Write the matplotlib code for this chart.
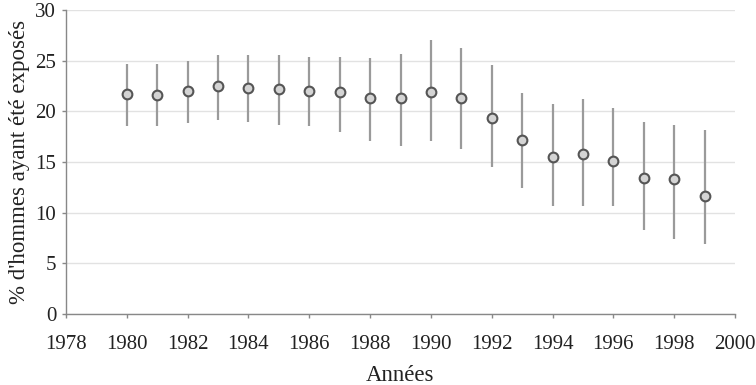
import matplotlib
matplotlib.use("Agg")
import matplotlib.pyplot as plt

years = [1980, 1981, 1982, 1983, 1984, 1985, 1986, 1987, 1988, 1989,
         1990, 1991, 1992, 1993, 1994, 1995, 1996, 1997, 1998, 1999]
values = [21.7, 21.6, 22.0, 22.5, 22.3, 22.2, 22.0, 21.9, 21.3, 21.3,
          21.9, 21.3, 19.3, 17.2, 15.5, 15.8, 15.1, 13.4, 13.3, 11.7]
upper = [24.7, 24.7, 25.0, 25.6, 25.6, 25.6, 25.4, 25.4, 25.3, 25.7,
         27.0, 26.3, 24.6, 21.8, 20.7, 21.2, 20.3, 19.0, 18.7, 18.2]
lower = [18.6, 18.6, 18.9, 19.2, 19.0, 18.7, 18.6, 18.0, 17.1, 16.6,
         17.1, 16.3, 14.5, 12.4, 10.7, 10.7, 10.7, 8.3, 7.4, 6.9]
xticks = list(range(1978, 2001, 2))
yticks = list(range(0, 31, 5))

plt.rcParams['font.family'] = ['Liberation Serif', 'DejaVu Serif']

fig = plt.figure(figsize=(7.56, 3.85), dpi=100)
ax = fig.add_axes([0.0873, 0.184, 0.885, 0.790])

ax.vlines(years, lower, upper, color='#9a9a9a', linewidth=1.6, zorder=2)
ax.plot(years, values, linestyle='none', marker='o', markersize=7,
        markerfacecolor='#d4d4d4', markeredgecolor='#555555',
        markeredgewidth=1.5, zorder=3)

ax.set_xlim(1978, 2000)
ax.set_ylim(0, 30)
ax.set_xticks(xticks)
ax.set_yticks(yticks)
ax.yaxis.grid(True, color='#e2e2e2', linewidth=1.0)
ax.set_axisbelow(True)
for s in ['top', 'right']:
    ax.spines[s].set_visible(False)
for s in ['left', 'bottom']:
    ax.spines[s].set_color('#888888')
    ax.spines[s].set_linewidth(1.0)
ax.tick_params(axis='both', colors='#888888', labelcolor='#222222',
               labelsize=15, length=3, width=1.0)
ax.tick_params(axis='x', pad=12)
ax.tick_params(axis='y', pad=4)
ax.set_xlabel('Années', fontsize=16.5, color='#222222', labelpad=8)
ax.set_ylabel("% d'hommes ayant été exposés", fontsize=16.5, color='#222222', labelpad=4)

fig.savefig('out.png', dpi=100)
